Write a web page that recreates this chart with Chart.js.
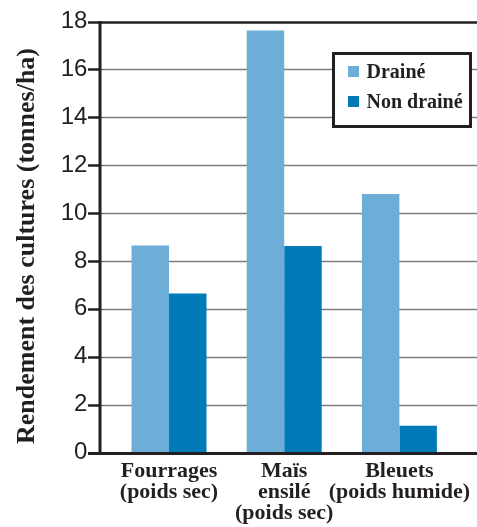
<!DOCTYPE html>
<html lang="fr">
<head>
<meta charset="utf-8">
<title>Rendement des cultures</title>
<script src="https://cdn.jsdelivr.net/npm/chart.js@4/dist/chart.umd.min.js"></script>
<style>
  html, body { margin: 0; padding: 0; background: #ffffff; }
  #wrap { position: relative; width: 477px; height: 527px; }
</style>
</head>
<body>
<div id="wrap"><canvas id="chart" width="477" height="527"></canvas></div>
<script>
// Crop yields, tonnes per hectare
const categories = [
  ['Fourrages', '(poids sec)'],
  ['Maïs', 'ensilé', '(poids sec)'],
  ['Bleuets', '(poids humide)']
];
const seriesNames = ['Drainé', 'Non drainé'];
const draine = [8.65, 17.62, 10.8];
const nonDraine = [6.64, 8.62, 1.12];
const yTicks = [0, 2, 4, 6, 8, 10, 12, 14, 16, 18];
const yTitle = 'Rendement des cultures (tonnes/ha)';

const INK = '#231f20';
const LIGHT = '#6daed8';
const DARK = '#007bb7';
const SERIF = '"Liberation Serif", "Times New Roman", serif';
const SANS = '"Liberation Sans", Arial, sans-serif';

// Axis frame, tick marks and horizontal rules drawn across the full width
const framePlugin = {
  id: 'frame',
  beforeDatasetsDraw(chart) {
    const { ctx, scales } = chart;
    const y = scales.y;
    const axisX = 100;
    const right = chart.width;
    ctx.save();
    yTicks.forEach(v => {
      const py = Math.round(y.getPixelForValue(v)) + 0.5;
      if (v > 0 && v < 18) {
        ctx.strokeStyle = '#7d7d7d';
        ctx.lineWidth = 1.3;
        ctx.beginPath(); ctx.moveTo(axisX, py); ctx.lineTo(right, py); ctx.stroke();
      }
      // tick mark
      ctx.strokeStyle = INK;
      ctx.lineWidth = 2.5;
      ctx.beginPath(); ctx.moveTo(88, py); ctx.lineTo(axisX, py); ctx.stroke();
    });
    // top rule at the maximum
    const pTop = Math.round(y.getPixelForValue(18)) + 0.5;
    ctx.strokeStyle = INK;
    ctx.lineWidth = 2.5;
    ctx.beginPath(); ctx.moveTo(axisX, pTop); ctx.lineTo(right, pTop); ctx.stroke();
    ctx.restore();
  },
  afterDatasetsDraw(chart) {
    const { ctx, scales } = chart;
    const y = scales.y;
    const axisX = 100;
    const p0 = Math.round(y.getPixelForValue(0)) + 0.5;
    const pTop = Math.round(y.getPixelForValue(18));
    ctx.save();
    ctx.strokeStyle = INK;
    ctx.lineWidth = 3;
    ctx.beginPath(); ctx.moveTo(axisX, pTop - 1); ctx.lineTo(axisX, p0 + 1.5); ctx.stroke();
    ctx.beginPath(); ctx.moveTo(88, p0); ctx.lineTo(chart.width, p0); ctx.stroke();

    // vertical axis title
    ctx.fillStyle = INK;
    ctx.font = 'bold 26px ' + SERIF;
    ctx.textAlign = 'center';
    ctx.textBaseline = 'middle';
    ctx.translate(27, 246);
    ctx.rotate(-Math.PI / 2);
    ctx.fillText(yTitle, 0, 0);
    ctx.restore();

    // legend box
    ctx.save();
    const bx = 333.5, by = 53.5, bw = 137, bh = 73;
    ctx.fillStyle = '#ffffff';
    ctx.fillRect(bx, by, bw, bh);
    ctx.strokeStyle = INK;
    ctx.lineWidth = 3;
    ctx.strokeRect(bx, by, bw, bh);
    ctx.font = 'bold 20px ' + SERIF;
    ctx.textAlign = 'left';
    ctx.textBaseline = 'alphabetic';
    chart.data.datasets.forEach((ds, i) => {
      const rowY = 66 + i * 30;
      ctx.fillStyle = ds.backgroundColor;
      ctx.fillRect(348, rowY, 11, 11);
      ctx.fillStyle = INK;
      ctx.fillText(ds.label, 366.5, rowY + 12);
    });
    ctx.restore();
  }
};

new Chart(document.getElementById('chart'), {
  type: 'bar',
  data: {
    labels: categories,
    datasets: [
      { label: seriesNames[0], data: draine, backgroundColor: LIGHT },
      { label: seriesNames[1], data: nonDraine, backgroundColor: DARK }
    ]
  },
  options: {
    responsive: false,
    animation: false,
    devicePixelRatio: 1,
    layout: { padding: { top: 21.5, right: 20, left: 0, bottom: 0 } },
    datasets: { bar: { categoryPercentage: 0.651, barPercentage: 1.0, borderWidth: 0 } },
    plugins: { legend: { display: false }, tooltip: { enabled: false } },
    scales: {
      x: {
        grid: { display: false, drawTicks: false },
        border: { display: false },
        ticks: {
          color: INK,
          font: { family: SERIF, size: 22, weight: 'bold', lineHeight: '21px' },
          padding: 8,
          maxRotation: 0,
          autoSkip: false
        },
        afterFit(scale) {
          scale.height = 74.5;
          scale.paddingLeft = 0;
          scale.paddingRight = 0;
        }
      },
      y: {
        min: 0,
        max: 18,
        grid: { display: false, drawTicks: false },
        border: { display: false },
        afterBuildTicks(scale) { scale.ticks = yTicks.map(v => ({ value: v })); },
        ticks: {
          color: INK,
          font: { family: SANS, size: 24 },
          padding: 24
        },
        afterFit(scale) {
          scale.width = 111.4;
          scale.paddingTop = 0;
          scale.paddingBottom = 0;
        }
      }
    }
  },
  plugins: [framePlugin]
});
</script>
</body>
</html>
